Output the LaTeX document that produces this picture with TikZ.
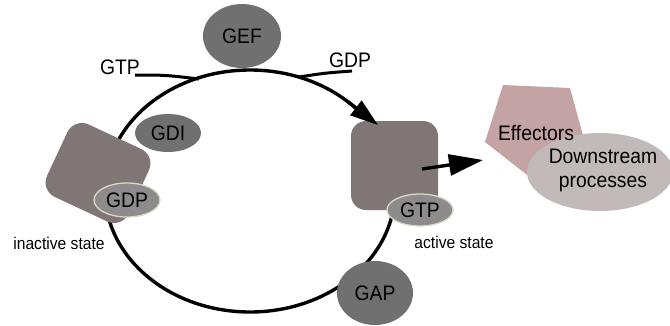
\documentclass[tikz,border=0pt]{standalone}
\usepackage{fontspec}
\setmainfont{Liberation Sans}[FakeStretch=0.92]
\usetikzlibrary{arrows.meta,shapes.geometric}
\definecolor{enzgray}{HTML}{707070}
\definecolor{gprot}{HTML}{807676}
\definecolor{nucfill}{HTML}{8D8B8B}
\definecolor{nucrim}{HTML}{DCD8C6}
\definecolor{effcol}{HTML}{C4A3A5}
\definecolor{downcol}{HTML}{C2BABA}
\tikzset{
  biglbl/.style={font=\fontsize{21}{24}\selectfont, inner sep=0pt},
  statelbl/.style={font=\fontsize{17}{19}\selectfont, inner sep=0pt},
  enzyme/.style={ellipse, fill=enzgray, inner sep=0pt, biglbl},
  nucl/.style={ellipse, fill=nucfill, draw=nucrim, line width=1.3pt, inner sep=0pt, biglbl},
  gprotbox/.style={rectangle, fill=gprot, rounded corners=14pt, inner sep=0pt},
  cycleline/.style={line width=3.4pt, black},
  sideline/.style={line width=3pt, black},
}
\begin{document}
\begin{tikzpicture}[x=1pt,y=-1pt]
\useasboundingbox (0,0) rectangle (670,325);
% cycle
\draw[cycleline] (250,191) ellipse [x radius=145, y radius=121];
% GEF
\node[enzyme, minimum width=78pt, minimum height=64pt] (gef) at (242,36) {GEF};
% GTP / GDP exchange lines
\coordinate (gtpin) at (199,79);
\coordinate (gdpout) at (299,77);
\node[biglbl] (gtplbl) at (120,67) {GTP};
\node[biglbl] (gdplbl) at (350,60) {GDP};
\coordinate (gtpend) at (135,75);
\coordinate (gdpend) at (352,71);
\draw[sideline] (gtpend) .. controls (165,75) .. (gtpin);
\draw[sideline] (gdpend) .. controls (325,73) .. (gdpout);
% inactive G protein
\node[gprotbox, minimum width=90pt, minimum height=80pt, rounded corners=16pt, rotate=-25] (inact) at (98,173) {};
\node[enzyme, minimum width=66pt, minimum height=38pt] (gdi) at (168,133) {GDI};
\node[nucl, minimum width=66pt, minimum height=34pt] (gdp) at (127,200) {GDP};
% active G protein
\node[gprotbox, minimum width=87pt, minimum height=89pt, rounded corners=15pt] (act) at (394.5,165.5) {};
\node[nucl, minimum width=66pt, minimum height=32pt] (gtp) at (420,210) {GTP};
% GAP
\node[enzyme, minimum width=76pt, minimum height=64pt] (gap) at (375,293) {GAP};
% effectors and downstream
\fill[effcol] (503,85) -- (570,88) -- (587,150) -- (540,185) -- (485,142) -- cycle;
\node[ellipse, fill=downcol, minimum width=146pt, minimum height=78pt, inner sep=0pt] (down) at (600,172) {};
\node[biglbl] (eff) at (536,133) {Effectors};
\node[biglbl, align=center] (downlbl) at (603,170) {Downstream\\processes};
% arrows
\coordinate (arcpt) at (347,101);
\coordinate (arctip) at (378,125);
\draw[cycleline, -{Triangle[length=28pt,width=18pt]}] (arcpt) -- (arctip);
\coordinate (actout) at (422,169);
\coordinate (efftip) at (483,160);
\draw[cycleline, -{Triangle[length=34pt,width=21pt]}] (actout) -- (efftip);
% state labels
\node[statelbl] (inactlbl) at (59,243) {inactive state};
\node[statelbl] (actlbl) at (454,242) {active state};
\end{tikzpicture}
\end{document}
